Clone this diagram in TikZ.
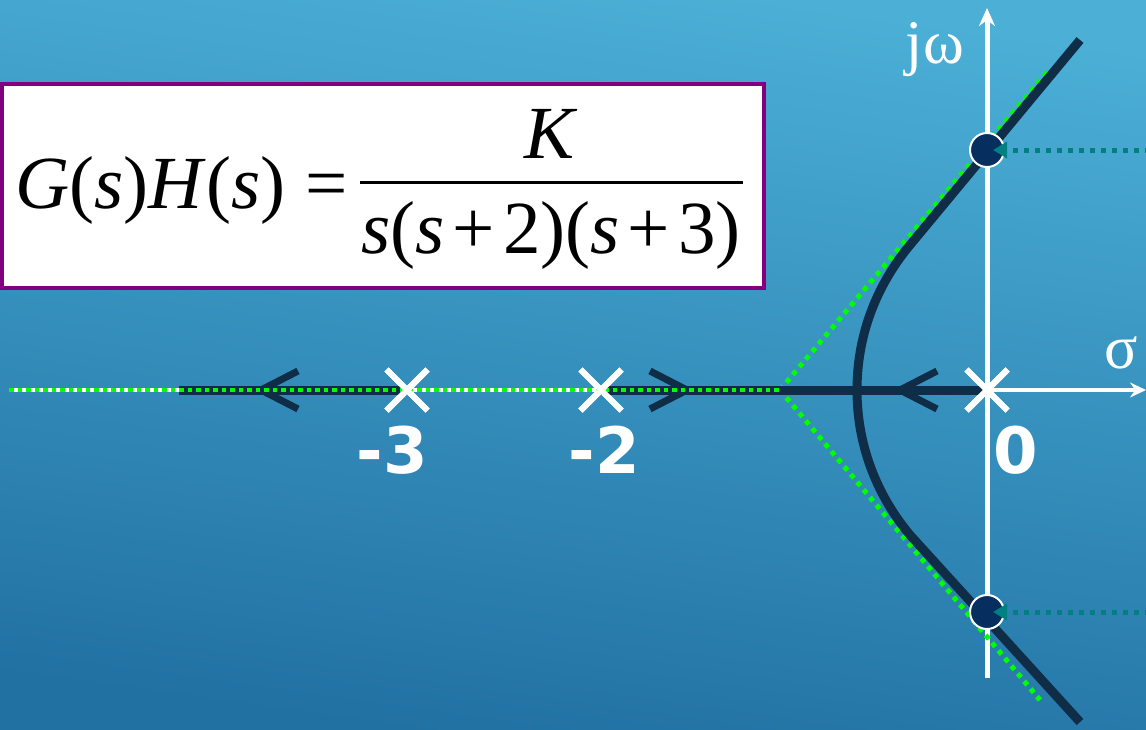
\documentclass[tikz,border=0pt]{standalone}
\usepackage{fontspec}
\setmainfont{Liberation Serif}
\newfontfamily\numfont{DejaVu Sans}
\usetikzlibrary{arrows.meta,shapes.misc}
\definecolor{bgtop}{HTML}{4BAFD6}
\definecolor{bgbot}{HTML}{2171A3}
\definecolor{locus}{HTML}{0F2D47}
\definecolor{dotgreen}{HTML}{00FF00}
\definecolor{tealc}{HTML}{008080}
\definecolor{circfill}{HTML}{062E5F}
\definecolor{boxpurple}{HTML}{800080}
\newcommand{\gap}{\hspace{8pt}}
\tikzset{
  axisline/.style={white,line width=4.5pt},
  locusline/.style={locus,line width=9pt},
  chevron/.style={locus,line width=7pt,line join=miter},
  greendots/.style={dotgreen,line width=4.5pt,dash pattern=on 4.5pt off 4pt},
  asydots/.style={dotgreen,line width=5pt,dash pattern=on 5pt off 5pt},
  tealdots/.style={tealc,line width=5pt,dash pattern=on 5pt off 6pt,-{Triangle[length=14pt,width=16pt]}},
  pole/.style={cross out,draw=white,line width=6pt,minimum size=35pt,inner sep=0pt},
  crossing/.style={circle,fill=circfill,draw=white,line width=2pt,minimum size=34pt,inner sep=0pt},
  numlabel/.style={text=white,font=\numfont\bfseries\fontsize{64}{70}\selectfont},
  axlabel/.style={text=white,font=\fontsize{62}{66}\selectfont,anchor=base},
  tfbox/.style={draw=boxpurple,line width=4.5pt,fill=white,minimum width=762pt,minimum height=204pt,inner sep=0pt},
  tftext/.style={text=black,font=\fontsize{75}{80}\selectfont,inner sep=0pt}
}
\begin{document}
\begin{tikzpicture}[x=1pt,y=-1pt]
\shade[top color=bgtop,bottom color=bgbot,shading angle=-8] (0,0) rectangle (1146,729);
\useasboundingbox (0,0) rectangle (1146,729);
% named points
\coordinate (lft) at (9,390);
\coordinate (lend) at (179,390);
\coordinate (cen) at (780,390);
\coordinate (rgt) at (1146,390);
\coordinate (vbot) at (987,678);
\coordinate (vtop) at (987,8);
\coordinate (lt) at (1080,40);
\coordinate (lb) at (1080,722);
\coordinate (at) at (1047,72);
\coordinate (ab) at (1040,700);
\coordinate (t1) at (1150,150);
\coordinate (t2) at (1150,612);
% poles
\node[pole] (p3) at (407,390) {};
\node[pole] (p2) at (601,390) {};
\node[pole] (p0) at (987,390) {};
% axes
\draw[axisline] (lft) -- (cen);
\draw[axisline,line width=4pt,-{Stealth[length=16pt,width=15pt]}] (p0.center) -- (rgt);
\draw[axisline,line width=5pt,-{Stealth[length=18pt,width=16pt]}] (vbot) -- (vtop);
% asymptotes
\draw[asydots] (cen) -- (at);
\draw[asydots] (cen) -- (ab);
% root locus
\draw[locusline] (p3.center) -- (lend);
\draw[locusline] (p2.center) -- (p0.center);
\draw[locusline,line join=round] (lt) -- (910,245) .. controls (880,281) and (857,330) .. (857,390)
   .. controls (857,450) and (880,499) .. (910,535) -- (lb);
% direction chevrons
\draw[chevron] (298,371) -- (261,390) -- (298,409);
\draw[chevron] (650,371) -- (687,390) -- (650,409);
\draw[chevron] (937,371) -- (900,390) -- (937,409);
% green dots on real axis
\draw[greendots] (lft) -- (cen);
% redraw poles on top
\node[pole] at (p3) {};
\node[pole] at (p2) {};
\node[pole] at (p0) {};
% imaginary-axis crossings
\node[crossing] (c1) at (987,150) {};
\node[crossing] (c2) at (987,612) {};
\draw[tealdots,shorten >=6pt] (t1) -- (c1.center);
\draw[tealdots,shorten >=6pt] (t2) -- (c2.center);
% labels
\node[numlabel] (l3) at (392,450) {-3};
\node[numlabel] (l2) at (604,450) {-2};
\node[numlabel] (l0) at (1016,450) {0};
\node[axlabel] (jw) at (935,63) {j\symbol{"03C9}};
\node[axlabel] (sg) at (1121,368) {\symbol{"03C3}};
% transfer function box
\node[tfbox] (box) at (383,186) {};
\node[tftext,anchor=base west] (lhs) at (15,208) {\textit{G}(\textit{s})\textit{H}(\textit{s})\hspace{20pt}=};
\node[tftext,anchor=base] (num) at (551,158) {\textit{K}};
\node[tftext,anchor=base] (den) at (551,253) {\textit{s}(\textit{s}\gap+\gap2)(\textit{s}\gap+\gap3)};
\draw[black,line width=3pt] (360,182) -- (743,182);
\end{tikzpicture}
\end{document}
